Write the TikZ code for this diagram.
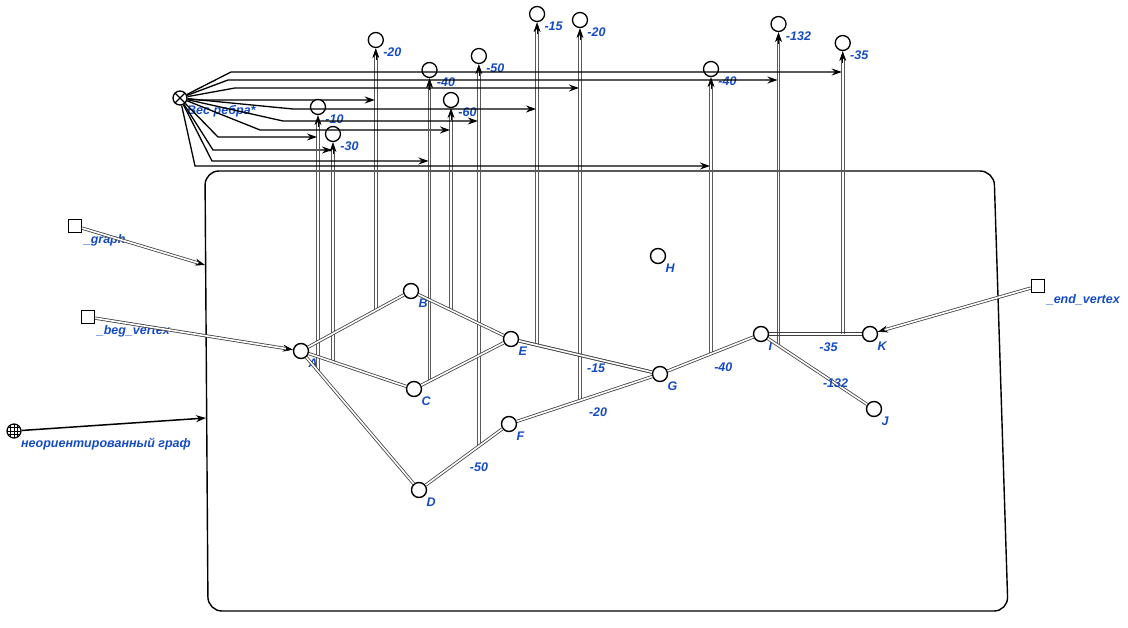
\documentclass[tikz,border=0pt]{standalone}
\usepackage{fontspec}
\setmainfont{Liberation Sans}
\usepackage{tikz}
\usetikzlibrary{calc, arrows.meta}
\definecolor{lblblue}{RGB}{20,75,195}
\tikzset{
    vert/.style={circle, draw, line width=1.4pt, fill=white, minimum size=15pt, inner sep=0pt},
    wnode/.style={circle, draw, line width=1.3pt, fill=white, minimum size=15pt, inner sep=0pt},
    port/.style={rectangle, draw, line width=1.2pt, fill=white, minimum size=13pt, inner sep=0pt},
    lbl/.style={text=lblblue, font=\fontsize{12.5}{14}\selectfont\bfseries\itshape, inner sep=1.5pt},
    dbl/.style={draw=black!75, line width=0.8pt, double=white, double distance=1.6pt},
    rail/.style={draw=black!65, line width=0.7pt},
    tip/.style={-{Stealth[length=10pt,width=7pt]}},
    fan/.style={line width=1.3pt, tip},
}

\begin{document}
\begin{tikzpicture}[x=1pt, y=-1pt]
    \useasboundingbox (0,0) rectangle (1128,628);
    % frame of the procedure
    \draw[line width=1.4pt, rounded corners=14pt] (205,171) -- (994,171) -- (1008,611) -- (208,611) -- cycle;
    \coordinate (inGraph) at (205,265);
    \coordinate (inKind) at (206,418);
    % vertices
    \foreach \n/\x/\y in {A/301/351, B/411/291, C/414/389, D/419/490, E/511/339, F/509/424,
                          G/660/374, H/658/256, I/761/334, J/874/409, K/870/334}
        \node[vert, label={[lbl]below right:\n}] (\n) at (\x,\y) {};
    % weight carrier
    \node[circle, draw, line width=1.3pt, minimum size=14pt, inner sep=0pt,
          path picture={\draw[line width=1.1pt] (path picture bounding box.north west) -- (path picture bounding box.south east)
                        (path picture bounding box.north east) -- (path picture bounding box.south west);},
          label={[lbl]below right:Вес ребра*}] (wt) at (180,98) {};
    % weights of the edges
    \foreach \w/\a/\b/\t/\y/\v/\fy/\bx in {AB/A/B/.68/40/-20/100/200, AC/A/C/.283/134/-30/150/213,
                                          AD/A/D/.144/107/-10/137/218, BE/B/E/.40/100/-60/130/260,
                                          CE/C/E/.16/70/-40/161/212, DF/D/F/.665/56/-50/121/283,
                                          EG/E/G/.175/14/-15/109/293, FG/F/G/.47/20/-20/88/235,
                                          GI/G/I/.505/69/-40/166/195, IJ/I/J/.155/24/-132/80/228,
                                          IK/I/K/.75/43/-35/72/231}
    {
        \coordinate (m\w) at ($(\a)!\t!(\b)$);
        \node[wnode, label={[lbl]below right:\v}] (w\w) at (m\w |- 0,\y) {};
        \draw[rail] ([xshift=-1.3pt]m\w) -- ([xshift=-1.3pt,yshift=-6pt]w\w.south)
                    ([xshift=1.3pt]m\w) -- ([xshift=1.3pt,yshift=-6pt]w\w.south);
        \draw[line width=.6pt, tip] ([yshift=-12pt]w\w.south) -- (w\w);
        \draw[fan] (wt) -- (\bx,\fy) -- ([xshift=-1pt]m\w |- 0,\fy);
    }
    % edges
    \foreach \a/\b in {A/B, A/C, A/D, B/E, C/E, E/G, I/J}
        \draw[dbl] (\a) -- (\b);
    \draw[dbl] (D) -- node[lbl, below right=4pt] {-50} (F);
    \draw[dbl] (E) -- node[lbl, pos=.58, below=3pt] {-15} (G);
    \draw[dbl] (F) -- node[lbl, pos=.6, below=11pt] {-20} (G);
    \draw[dbl] (G) -- node[lbl, pos=.65, below=12pt] {-40} (I);
    \draw[rail, draw=black!75, line width=.8pt] ([yshift=1.3pt]I.east) -- ([yshift=1.3pt]K.west)
                                               ([yshift=-1.3pt]I.east) -- ([yshift=-1.3pt]K.west);
    \path (I) -- node[lbl, pos=.64, below=7pt] {-35} (K);
    \node[lbl] at ($(I)!.66!(J)$) {-132};
    % inputs
    \node[port, label={[lbl]below right:\_graph}] (pGraph) at (75,226) {};
    \node[port, label={[lbl]below right:\_beg\_vertex}] (pBeg) at (88,317) {};
    \node[port, label={[lbl]below right:\_end\_vertex}] (pEnd) at (1038,286) {};
    \node[circle, draw, line width=1.2pt, minimum size=14pt, inner sep=0pt,
          path picture={\draw[line width=.6pt] (path picture bounding box.south west) grid[step=3.5pt] (path picture bounding box.north east);},
          label={[lbl]below right:неориентированный граф}] (kind) at (14,431) {};
    \foreach \p/\q in {pGraph/inGraph, pBeg/A, pEnd/K}
    {
        \draw[line width=.6pt, tip] (\p) -- (\q);
        \draw[dbl, shorten >=7pt] (\p) -- (\q);
    }
    \draw[line width=1.5pt, tip] (kind) -- (inKind);
\end{tikzpicture}
\end{document}
